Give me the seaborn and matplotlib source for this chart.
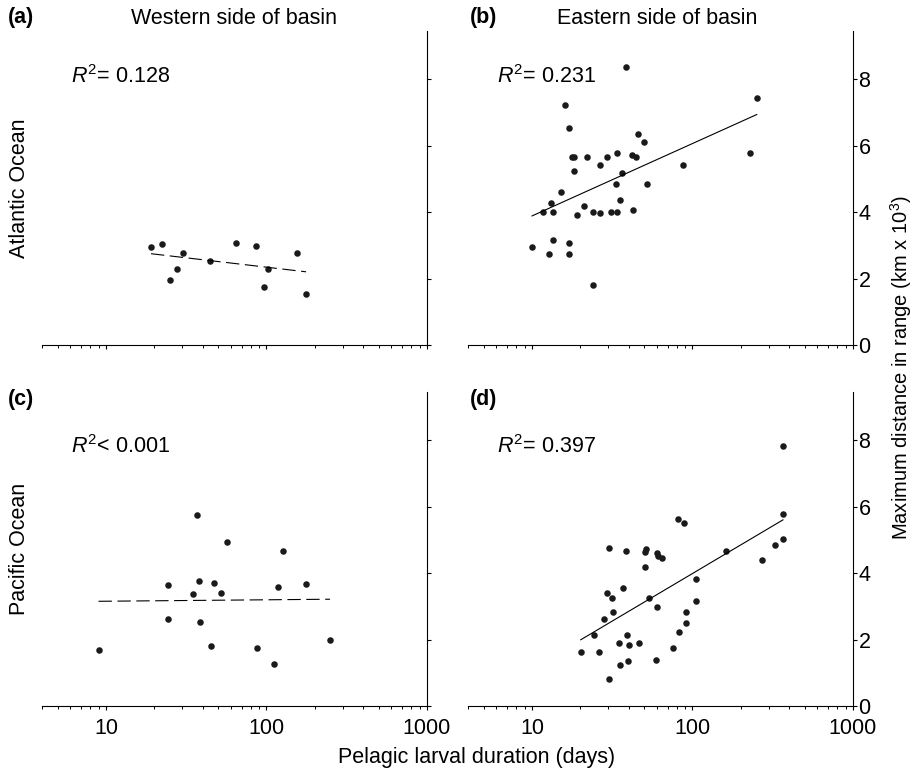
import numpy as np
import matplotlib
matplotlib.use("Agg")
import matplotlib.pyplot as plt
import seaborn as sns
from matplotlib.ticker import LogLocator, NullFormatter, FixedLocator

# pelagic larval duration (days) vs maximum distance in range (km x 10^3)
atl_west_pld = [19.1, 22.5, 24.9, 27.9, 30.4, 44.2, 64.7, 85.5, 96.9, 102.6, 155, 176.5]
atl_west_dist = [2.96, 3.04, 1.95, 2.28, 2.78, 2.53, 3.06, 2.99, 1.74, 2.28, 2.77, 1.54]

atl_east_pld = [10.0, 11.8, 13.5, 13.1, 12.8, 13.5, 15.1, 16.0, 17.1, 17.1, 17.1, 17.7, 18.3,
                18.2, 19.1, 21.1, 22.1, 24.0, 24.0, 26.6, 26.6, 29.3, 31.2, 33.3, 34.0, 34.1,
                35.3, 36.2, 38.3, 42.0, 44.3, 42.8, 46.0, 49.9, 52.4, 86.9, 229, 252]
atl_east_dist = [2.94, 4.0, 4.0, 4.28, 2.73, 3.16, 4.59, 7.22, 6.54, 3.07, 2.74, 5.65, 5.66,
                 5.25, 3.91, 4.18, 5.65, 4.0, 1.82, 5.43, 3.96, 5.65, 4.0, 4.86, 5.77, 4.0,
                 4.35, 5.19, 8.38, 5.71, 5.66, 4.05, 6.36, 6.11, 4.86, 5.43, 5.77, 7.42]

pac_west_pld = [9.0, 24.2, 24.2, 34.9, 37.0, 38.1, 38.6, 45.1, 47.3, 52.4, 56.8, 87.1,
                118.6, 126.2, 176, 249, 110.9]
pac_west_dist = [1.69, 3.65, 2.61, 3.38, 5.76, 3.77, 2.54, 1.82, 3.70, 3.40, 4.93, 1.74,
                 3.59, 4.65, 3.67, 1.98, 1.27]

pac_east_pld = [20.1, 24.5, 26.2, 28.0, 29.4, 30.1, 31.6, 32.2, 35.1, 37.0, 38.3, 39.0,
                40.2, 39.6, 46.4, 50.4, 50.9, 51.1, 53.6, 59.6, 60.1, 60.3, 61.4, 64.4,
                75.5, 81.1, 82.6, 88.5, 90.6, 90.6, 105, 105, 161, 273, 327, 366, 367, 366,
                30.1, 35.3]
pac_east_dist = [1.64, 2.13, 1.64, 2.63, 3.40, 4.75, 3.26, 2.84, 1.90, 3.56, 4.65, 2.13,
                 1.83, 1.35, 1.90, 4.17, 4.63, 4.74, 3.25, 1.37, 4.60, 2.99, 4.52, 4.46,
                 1.74, 5.63, 2.22, 5.52, 2.49, 2.84, 3.81, 3.17, 4.65, 4.40, 4.85, 5.04, 5.79,
                 7.82, 0.80, 1.23]

r2_labels = [r"$R^2$= 0.128", r"$R^2$= 0.231", r"$R^2$< 0.001", r"$R^2$= 0.397"]
panel_tags = ["(a)", "(b)", "(c)", "(d)"]
col_titles = ["Western side of basin", "Eastern side of basin"]
row_titles = ["Atlantic Ocean", "Pacific Ocean"]

sns.set_theme(style="white")
plt.rcParams["font.family"] = ["Liberation Sans", "DejaVu Sans"]
plt.rcParams["mathtext.fontset"] = "custom"
plt.rcParams["mathtext.rm"] = "Liberation Sans"
plt.rcParams["mathtext.it"] = "Liberation Sans:italic"
for key in ["text.color", "axes.labelcolor", "xtick.color", "ytick.color"]:
    plt.rcParams[key] = "black"
FS = 15.5

fig = plt.figure(figsize=(9.15, 7.75), dpi=100)
W, H = 915, 775

def px_axes(x0, y0, x1, y1):
    return fig.add_axes([x0 / W, 1 - y1 / H, (x1 - x0) / W, (y1 - y0) / H])

axes = [px_axes(42, 31, 427, 345), px_axes(468, 31, 853, 345),
        px_axes(42, 392, 427, 706), px_axes(468, 392, 853, 706)]

data = [(atl_west_pld, atl_west_dist, True), (atl_east_pld, atl_east_dist, False),
        (pac_west_pld, pac_west_dist, True), (pac_east_pld, pac_east_dist, False)]

for i, (ax, (xs, ys, dashed)) in enumerate(zip(axes, data)):
    line_kws = dict(color="black", lw=0.8)
    if dashed:
        line_kws["dashes"] = (12, 5)
    sns.regplot(x=np.array(xs), y=np.array(ys), ax=ax, logx=True, ci=None,
                color="#1a1a1a", scatter_kws=dict(s=22, linewidths=0, alpha=1),
                line_kws=line_kws)
    ax.set_xscale("log")
    ax.set_xlim(4, 1000)
    ax.set_ylim(0, 9.45)
    ax.set_xlabel("")
    ax.set_ylabel("")
    for s in ["top", "left"]:
        ax.spines[s].set_visible(False)
    for s in ["right", "bottom"]:
        ax.spines[s].set_visible(True)
        ax.spines[s].set_color("black")
        ax.spines[s].set_linewidth(0.8)

    ax.xaxis.set_major_locator(FixedLocator([10, 100, 1000]))
    ax.xaxis.set_minor_locator(LogLocator(base=10, subs=np.arange(2, 10)))
    ax.xaxis.set_minor_formatter(NullFormatter())
    if i >= 2:
        ax.set_xticklabels(["10", "100", "1000"])
    ax.tick_params(axis="x", which="major", bottom=True, direction="out", length=3,
                   width=0.8, color="black", labelsize=FS, pad=5.5,
                   labelbottom=(i >= 2))
    ax.tick_params(axis="x", which="minor", bottom=True, direction="out", length=1.8,
                   width=0.7, color="black")

    ax.yaxis.tick_right()
    ax.set_yticks([0, 2, 4, 6, 8])
    ax.tick_params(axis="y", which="major", right=True, left=False, direction="out",
                   length=3, width=0.8, color="black", labelsize=FS, pad=1,
                   labelright=(i % 2 == 1))

    top_frac = 0.854 if i < 2 else 0.825
    ax.text(0.075, top_frac, r2_labels[i], transform=ax.transAxes,
            fontsize=FS, ha="left", va="center")

# panel tags and headings
tag_pos = [(8, 18), (470, 18), (8, 399), (470, 399)]
for tag, (tx, ty) in zip(panel_tags, tag_pos):
    fig.text(tx / W, 1 - ty / H, tag, fontsize=FS, fontweight="bold",
             ha="left", va="center")
fig.text(234 / W, 1 - 18 / H, col_titles[0], fontsize=FS, ha="center", va="center")
fig.text(657 / W, 1 - 18 / H, col_titles[1], fontsize=FS, ha="center", va="center")
fig.text(20 / W, 1 - 188 / H, row_titles[0], fontsize=FS, rotation=90,
         ha="center", va="center")
fig.text(20 / W, 1 - 549 / H, row_titles[1], fontsize=FS, rotation=90,
         ha="center", va="center")
fig.text(901 / W, 1 - 368 / H, r"Maximum distance in range (km x 10$^{\mathrm{3}}$)",
         fontsize=14.5, rotation=90, ha="center", va="center")
fig.text(477 / W, 1 - 758 / H, "Pelagic larval duration (days)", fontsize=FS,
         ha="center", va="center")

fig.savefig("out.png", dpi=100, facecolor="white")
